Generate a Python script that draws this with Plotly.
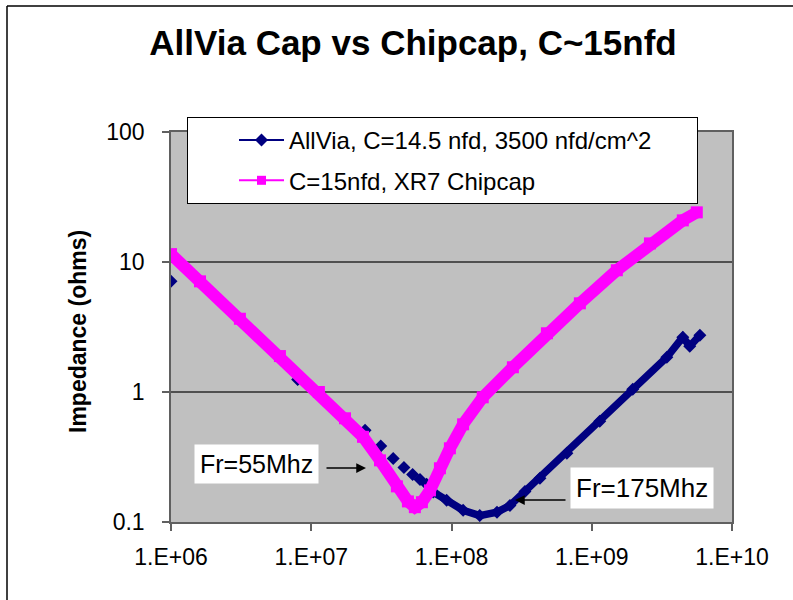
import plotly.graph_objects as go

# Impedance of the AllVia capacitor (Hz, ohms)
allvia_freq = [1.0e6, 2.0e6, 4.0e6, 8.0e6, 1.5e7,
               2.42e7, 3.13e7, 3.84e7, 4.58e7, 5.28e7, 5.96e7, 6.65e7,
               7.41e7, 9.23e7, 1.21e8, 1.59e8, 2.11e8, 2.61e8, 3.34e8,
               4.27e8, 6.65e8, 1.14e9, 1.96e9, 3.43e9, 4.46e9, 5.00e9, 5.90e9]
allvia_z = [7.1, 5.65, 2.8, 1.25, 0.72,
            0.507, 0.385, 0.308, 0.262, 0.232, 0.212, 0.195,
            0.170, 0.147, 0.123, 0.112, 0.119, 0.134, 0.172,
            0.217, 0.338, 0.595, 1.05, 1.85, 2.64, 2.25, 2.73]

# Impedance of the 15 nF XR7 chip capacitor (Hz, ohms)
chipcap_freq = [1.0e6, 1.61e6, 3.10e6, 5.98e6, 1.134e7, 1.74e7, 2.34e7,
                3.09e7, 4.08e7, 4.89e7, 5.48e7, 6.15e7, 7.02e7, 8.27e7,
                9.74e7, 1.21e8, 1.67e8, 2.74e8, 4.79e8, 8.23e8, 1.51e9,
                2.60e9, 4.46e9, 5.61e9]
chipcap_z = [11.5, 7.10, 3.66, 1.89, 1.00, 0.628, 0.452,
             0.298, 0.188, 0.144, 0.130, 0.142, 0.175, 0.259,
             0.369, 0.564, 0.910, 1.55, 2.83, 4.81, 8.64,
             13.9, 20.9, 24.1]

series_names = ["AllVia, C=14.5 nfd, 3500 nfd/cm^2", "C=15nfd, XR7 Chipcap"]
x_ticks = [1e6, 1e7, 1e8, 1e9, 1e10]
x_tick_text = ["1.E+06", "1.E+07", "1.E+08", "1.E+09", "1.E+10"]
y_ticks = [0.1, 1, 10, 100]
y_tick_text = ["0.1", "1", "10", "100"]
y_title = "Impedance (ohms)"

NAVY = "#000080"
MAGENTA = "#FF00FF"
FONT = "Liberation Sans, Arial, sans-serif"
PAD = "\u00a0" * 6  # keeps white space at the right end of the legend box

W, H = 793, 600
ML, MR, MT, MB = 171, 61, 132, 78
PW, PH = W - ML - MR, H - MT - MB


def xp(px):
    return (px - ML) / PW


def yp(py):
    return (H - MB - py) / PH


fig = go.Figure()

# AllVia: markers everywhere, a heavy line through the continuous part
fig.add_trace(go.Scatter(
    x=allvia_freq, y=allvia_z, mode="markers", showlegend=False,
    marker=dict(symbol="diamond", size=10, color=NAVY),
))
cont = [(f, z) for f, z in zip(allvia_freq, allvia_z) if f >= 7e7]
fig.add_trace(go.Scatter(
    x=[c[0] for c in cont], y=[c[1] for c in cont], mode="lines",
    showlegend=False, line=dict(color=NAVY, width=7.5),
))

# Chip capacitor on top
fig.add_trace(go.Scatter(
    x=chipcap_freq, y=chipcap_z, mode="lines+markers", showlegend=False,
    line=dict(color=MAGENTA, width=12),
    marker=dict(symbol="square", size=12, color=MAGENTA),
))

# Legend entries with thin lines
fig.add_trace(go.Scatter(
    x=[None], y=[None], mode="lines+markers", name=series_names[0] + PAD,
    legendgroup="a",
    line=dict(color=NAVY, width=2),
    marker=dict(symbol="diamond", size=10, color=NAVY),
))
fig.add_trace(go.Scatter(
    x=[None], y=[None], mode="lines+markers", name=series_names[1],
    legendgroup="b",
    line=dict(color=MAGENTA, width=2),
    marker=dict(symbol="square", size=9, color=MAGENTA),
))

axis_common = dict(
    showline=True, linecolor="#606060", linewidth=1.5, mirror=True,
    ticks="outside", ticklen=7, tickwidth=1.5, tickcolor="#606060",
    tickfont=dict(family=FONT, size=23, color="black"),
    zeroline=False,
)

fig.update_xaxes(
    type="log", range=[6, 10], tickvals=x_ticks, ticktext=x_tick_text,
    showgrid=False, ticklabelstandoff=7, **axis_common,
)
fig.update_yaxes(
    type="log", range=[-1, 2], tickvals=y_ticks, ticktext=y_tick_text,
    showgrid=True, gridcolor="#505050", gridwidth=1.5, ticklabelstandoff=13,
    **axis_common,
)

shapes = [
    dict(type="line", xref="paper", yref="paper", x0=xp(7), x1=xp(7),
         y0=yp(6), y1=yp(H + 2), line=dict(color="black", width=1.5)),
    dict(type="line", xref="paper", yref="paper", x0=xp(7), x1=xp(W + 2),
         y0=yp(6), y1=yp(6), line=dict(color="black", width=1.5)),
]

annotations = [
    # vertical axis title
    dict(text="<b>" + y_title + "</b>", xref="paper", yref="paper",
         x=xp(78), y=yp(332), xanchor="center", yanchor="middle",
         textangle=-90, showarrow=False,
         font=dict(family=FONT, size=23, color="black")),
    dict(text="Fr=55Mhz", xref="paper", yref="paper", x=xp(256), y=yp(464),
         xanchor="center", yanchor="middle",
         showarrow=False, bgcolor="white", borderpad=5,
         font=dict(family=FONT, size=25, color="black")),
    dict(text="", xref="paper", yref="paper", x=xp(366), y=yp(468),
         ax=-41, ay=0, showarrow=True, arrowhead=2, arrowsize=1.3,
         arrowwidth=1.5, arrowcolor="black", standoff=0),
    dict(text="Fr=175Mhz", xref="paper", yref="paper", x=xp(642), y=yp(488),
         xanchor="center", yanchor="middle",
         showarrow=False, bgcolor="white", borderpad=5,
         font=dict(family=FONT, size=26, color="black")),
    dict(text="", xref="paper", yref="paper", x=xp(515), y=yp(500),
         ax=52, ay=0, showarrow=True, arrowhead=2, arrowsize=1.3,
         arrowwidth=1.5, arrowcolor="black", standoff=0),
]

fig.update_layout(
    width=W, height=H,
    margin=dict(l=ML, r=MR, t=MT, b=MB),
    paper_bgcolor="white", plot_bgcolor="#C0C0C0",
    font=dict(family=FONT, color="black"),
    title=dict(text="<b>AllVia Cap vs Chipcap, C~15nfd</b>",
               xref="container", yref="container", x=413 / W, y=1 - 43 / H,
               xanchor="center", yanchor="middle",
               font=dict(family=FONT, size=35, color="black")),
    legend=dict(x=xp(187), y=yp(117), xanchor="left", yanchor="top",
                bgcolor="white", bordercolor="black", borderwidth=1,
                font=dict(family=FONT, size=24, color="black"),
                itemwidth=45, indentation=46, tracegroupgap=6),
    shapes=shapes, annotations=annotations,
)

fig.write_html("out.html")
